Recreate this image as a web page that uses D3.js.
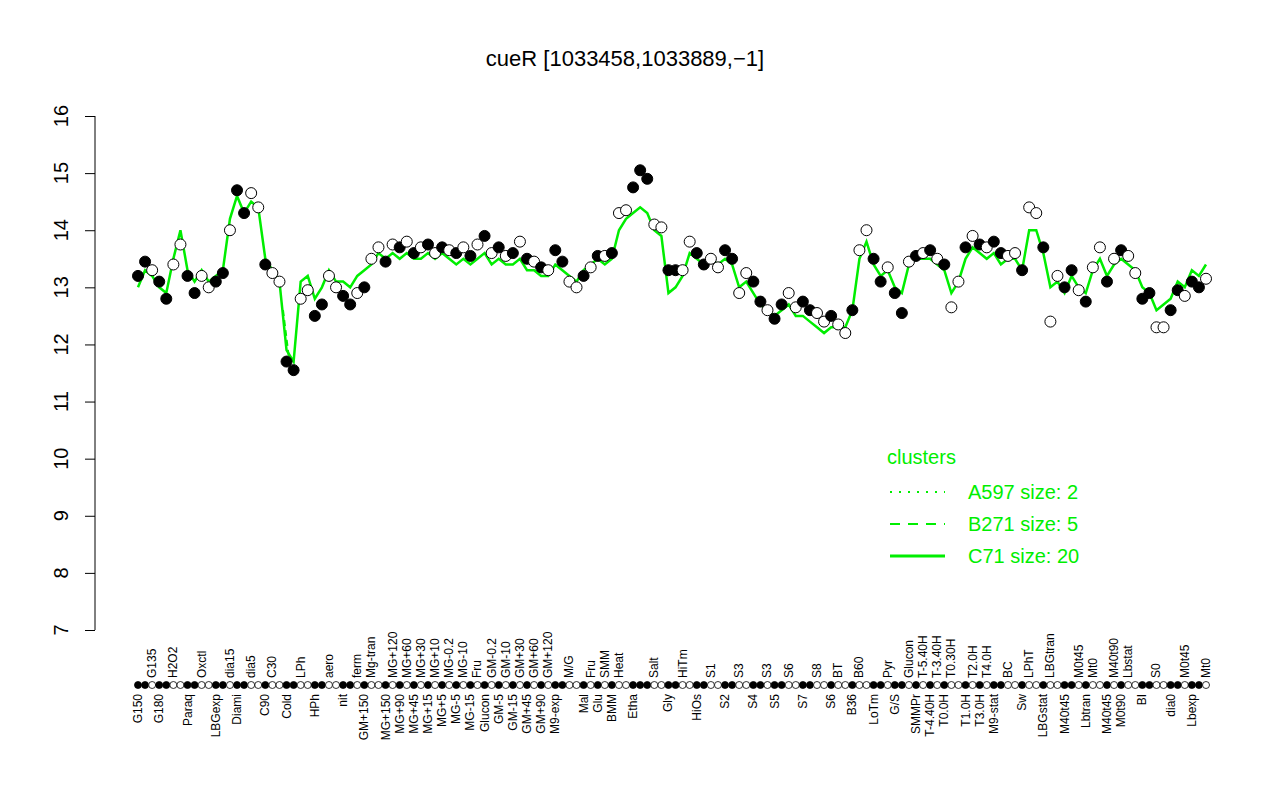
<!DOCTYPE html>
<html><head><meta charset="utf-8">
<script src="https://cdn.jsdelivr.net/npm/d3@7"></script>
<style>body{margin:0;background:#fff}text{font-family:"Liberation Sans",Arial,sans-serif}</style>
</head><body><svg id="c" width="1280" height="800"></svg>
<script>
// sample labels, one per measured point (same label repeated for replicates)
var labels = ["G150","G150","G135","G180","G180","H2O2","H2O2","Paraq","Paraq","Oxctl","Oxctl","LBGexp","LBGexp","dia15","Diami","Diami","dia5","dia5","C90","C30","C30","Cold","Cold","LPh","LPh","HPh","HPh","aero","aero","nit","nit","ferm","GM+150","Mg-tran","Mg-tran","MG+150","MG+120","MG+90","MG+60","MG+45","MG+30","MG+15","MG+10","MG+5","MG-0.2","MG-5","MG-10","MG-15","Fru","Glucon","GM-0.2","GM-5","GM-10","GM-15","GM+30","GM+45","GM+60","GM+90","GM+120","M9-exp","M9-exp","M/G","M/G","Mal","Fru","Glu","SMM","BMM","Heat","Heat","Etha","Etha","Etha","Salt","Salt","Gly","Gly","HiTm","HiTm","HiOs","HiOs","S1","S1","S2","S2","S3","S3","S4","S4","S3","S5","S5","S6","S6","S7","S7","S8","S8","S6","BT","BT","B36","B60","B60","LoTm","LoTm","Pyr","G/S","G/S","Glucon","SMMPr","T-5.40H","T-4.40H","T-3.40H","T0.0H","T0.30H","T0.30H","T1.0H","T2.0H","T3.0H","T4.0H","M9-stat","M9-stat","BC","BC","Sw","LPhT","LPhT","LBGstat","LBGtran","LBGtran","M40t45","M40t45","M0t45","Lbtran","Mt0","Mt0","M40t45","M40t90","M0t90","Lbstat","Lbstat","BI","BI","S0","S0","dia0","dia0","M0t45","Lbexp","Lbexp","Mt0"];
var values = [13.2,13.45,13.3,13.1,12.8,13.4,13.75,13.2,12.9,13.2,13.0,13.1,13.25,14.0,14.7,14.3,14.65,14.4,13.4,13.25,13.1,11.7,11.55,12.8,12.95,12.5,12.7,13.2,13.0,12.85,12.7,12.9,13.0,13.5,13.7,13.45,13.75,13.7,13.8,13.6,13.7,13.75,13.6,13.7,13.65,13.6,13.7,13.55,13.75,13.9,13.6,13.7,13.55,13.6,13.8,13.5,13.45,13.35,13.3,13.65,13.45,13.1,13.0,13.2,13.35,13.55,13.55,13.6,14.3,14.35,14.75,15.05,14.9,14.1,14.05,13.3,13.3,13.3,13.8,13.6,13.4,13.5,13.35,13.65,13.5,12.9,13.25,13.1,12.75,12.6,12.45,12.7,12.9,12.65,12.75,12.6,12.55,12.4,12.5,12.35,12.2,12.6,13.65,14.0,13.5,13.1,13.35,12.9,12.55,13.45,13.55,13.6,13.65,13.5,13.4,12.65,13.1,13.7,13.9,13.75,13.7,13.8,13.6,13.55,13.6,13.3,14.4,14.3,13.7,12.4,13.2,13.0,13.3,12.95,12.75,13.35,13.7,13.1,13.5,13.65,13.55,13.25,12.8,12.9,12.3,12.3,12.6,12.95,12.85,13.1,13.0,13.15];
var c71 = [13.0,13.3,13.2,13.0,12.9,13.5,14.0,13.3,13.1,13.3,13.1,13.2,13.3,14.2,14.6,14.3,14.5,14.4,13.5,13.3,13.1,11.9,11.7,13.1,13.2,12.8,13.0,13.3,13.1,13.1,13.0,13.2,13.3,13.4,13.6,13.5,13.6,13.5,13.6,13.5,13.5,13.6,13.5,13.6,13.5,13.4,13.5,13.4,13.5,13.6,13.4,13.5,13.4,13.4,13.5,13.3,13.3,13.2,13.2,13.4,13.3,13.2,13.1,13.3,13.4,13.5,13.4,13.5,14.0,14.2,14.3,14.4,14.3,14.0,13.9,12.9,13.0,13.2,13.6,13.5,13.4,13.5,13.4,13.5,13.4,13.0,13.1,12.9,12.7,12.6,12.5,12.6,12.7,12.5,12.5,12.4,12.3,12.2,12.3,12.3,12.3,12.6,13.5,13.8,13.4,13.2,13.3,13.0,12.9,13.4,13.5,13.5,13.5,13.4,13.3,12.9,13.1,13.5,13.7,13.6,13.5,13.6,13.4,13.5,13.5,13.3,14.0,14.0,13.6,13.0,13.1,12.9,13.2,13.0,12.9,13.3,13.5,13.2,13.4,13.5,13.4,13.3,13.0,12.9,12.6,12.7,12.8,13.1,13.0,13.3,13.2,13.4];
var b271 = {"Cold":[12.6,11.6],"S6":[12.3],"BT":[12.2]};
var clusterNames = ["A597 size: 2","B271 size: 5","C71 size: 20"];
var yTicks = [7,8,9,10,11,12,13,14,15,16];

var svg = d3.select("#c");
var x = d3.scaleLinear().domain([0, labels.length - 1]).range([138, 1206]);
var y = d3.scaleLinear().domain([7, 16]).range([630, 116]);

// alternate fill by group
var filled = [], g = 0;
labels.forEach(function(l, i) { if (i > 0 && l !== labels[i-1]) g++; filled.push(g % 2 === 0); });

svg.append("text").attr("x", 625).attr("y", 66).attr("text-anchor", "middle")
  .attr("font-size", 22).text("cueR [1033458,1033889,\u22121]");

var ax = svg.append("g").attr("transform", "translate(95,0)")
  .call(d3.axisLeft(y).tickValues(yTicks).tickSize(10).tickFormat(""));
ax.select(".domain").attr("d", "M0," + y(7) + "V" + y(16)).attr("stroke", "#000");
yTicks.forEach(function(t) {
  svg.append("text").attr("transform", "translate(68," + y(t) + ") rotate(-90)")
    .attr("text-anchor", "middle").attr("font-size", 20).text(t);
});

var line = d3.line().x(function(d, i) { return x(i); }).y(function(d) { return y(d); });
svg.append("path").datum(c71).attr("d", line).attr("fill", "none").attr("stroke", "#00ee00").attr("stroke-width", 2.5);

Object.keys(b271).forEach(function(k) {
  var idx = labels.indexOf(k);
  var pts = b271[k].map(function(v, j) { return [x(idx + j - 0.5), y(v)]; });
  svg.append("path").attr("d", d3.line()(pts)).attr("fill", "none").attr("stroke", "#00ee00")
    .attr("stroke-width", 2).attr("stroke-dasharray", "6,4");
});

svg.selectAll(".v").data(values).enter().append("circle")
  .attr("cx", function(d, i) { return x(i); }).attr("cy", function(d) { return y(d); })
  .attr("r", 5.5).attr("stroke", "#000").attr("stroke-width", 1)
  .attr("fill", function(d, i) { return filled[i] ? "#000" : "#fff"; });

svg.selectAll(".r").data(labels).enter().append("circle")
  .attr("cx", function(d, i) { return x(i); }).attr("cy", 685)
  .attr("r", 3.5).attr("stroke", "#000").attr("stroke-width", 0.8)
  .attr("fill", function(d, i) { return filled[i] ? "#000" : "#fff"; });

// axis labels at first point of each group, alternating rows
var gi = 0;
labels.forEach(function(l, i) {
  if (i > 0 && l === labels[i-1]) return;
  var top = gi % 2 === 1; gi++;
  var yy = top ? 678 : 694;
  svg.append("text").attr("transform", "translate(" + (x(i) + 4) + "," + yy + ") rotate(-90)")
    .attr("text-anchor", top ? "start" : "end").attr("font-size", 12).text(l);
});

var lg = svg.append("g");
lg.append("text").attr("x", 887).attr("y", 464).attr("fill", "#00ee00").attr("font-size", 20).text("clusters");
clusterNames.forEach(function(n, i) {
  var yy = 492 + i * 32;
  lg.append("line").attr("x1", 890).attr("x2", 945).attr("y1", yy).attr("y2", yy)
    .attr("stroke", "#00ee00").attr("stroke-width", i === 2 ? 3 : 2)
    .attr("stroke-dasharray", i === 0 ? "2,7" : i === 1 ? "10,8" : null);
  lg.append("text").attr("x", 968).attr("y", yy + 7).attr("fill", "#00ee00").attr("font-size", 20).text(n);
});
</script></body></html>
